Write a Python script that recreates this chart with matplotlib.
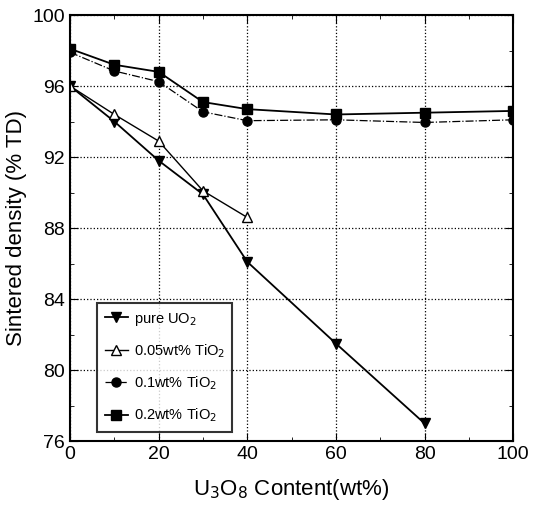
import matplotlib
matplotlib.use("Agg")
import matplotlib.pyplot as plt
import numpy as np

plt.rcParams['font.family'] = ['Liberation Sans', 'DejaVu Sans']

x_pure = [0, 10, 20, 30, 40, 60, 80]
y_pure = [96.0, 94.0, 91.8, 89.9, 86.1, 81.5, 77.0]
x_005 = [0, 10, 20, 30, 40]
y_005 = [96.0, 94.4, 92.9, 90.1, 88.6]
x_01 = [0, 10, 20, 30, 40, 60, 80, 100]
y_01 = [97.9, 96.85, 96.25, 94.55, 94.05, 94.1, 93.95, 94.1]
x_02 = [0, 10, 20, 30, 40, 60, 80, 100]
y_02 = [98.1, 97.2, 96.8, 95.1, 94.7, 94.4, 94.5, 94.6]

fig = plt.figure(figsize=(5.39, 5.19), dpi=100)
ax = fig.add_axes([0.13, 0.15, 0.822, 0.821])

ax.plot(x_pure, y_pure, '-', color='black', lw=1.3, marker='v', ms=7.5, label='pure UO$_2$')
ax.plot(x_005, y_005, '-', color='black', lw=1.0, marker='^', ms=7.5, mfc='white', label='0.05wt% TiO$_2$')
ax.plot(x_01, y_01, '-.', color='black', lw=0.9, marker='o', ms=6.5, label='0.1wt% TiO$_2$')
ax.plot(x_02, y_02, '-', color='black', lw=1.3, marker='s', ms=6.5, label='0.2wt% TiO$_2$')

ax.set_xlim(0, 100)
ax.set_ylim(76, 100)
ax.set_xticks(np.arange(0, 101, 20))
ax.set_yticks(np.arange(76, 101, 4))
ax.set_xticks(np.arange(0, 101, 10), minor=True)
ax.set_yticks(np.arange(76, 101, 2), minor=True)
ax.tick_params(which='both', direction='in', top=True, right=True, labelsize=14)
ax.tick_params(which='major', length=6)
ax.tick_params(which='minor', length=3)
ax.grid(True, which='major', ls=':', color='black', lw=0.9)
for s in ax.spines.values():
    s.set_linewidth(1.5)

ax.set_ylabel('Sintered density (% TD)', fontsize=16)
ax.set_xlabel('U$_3$O$_8$ Content(wt%)', fontsize=16, labelpad=10)

leg = ax.legend(loc='lower left', bbox_to_anchor=(0.045, 0.005), fontsize=10.5, frameon=True,
                fancybox=False, edgecolor='black', handlelength=1.6, borderpad=0.5,
                labelspacing=1.0, handletextpad=0.4)
leg.get_frame().set_linewidth(1.5)

fig.savefig('out.png', dpi=100)
